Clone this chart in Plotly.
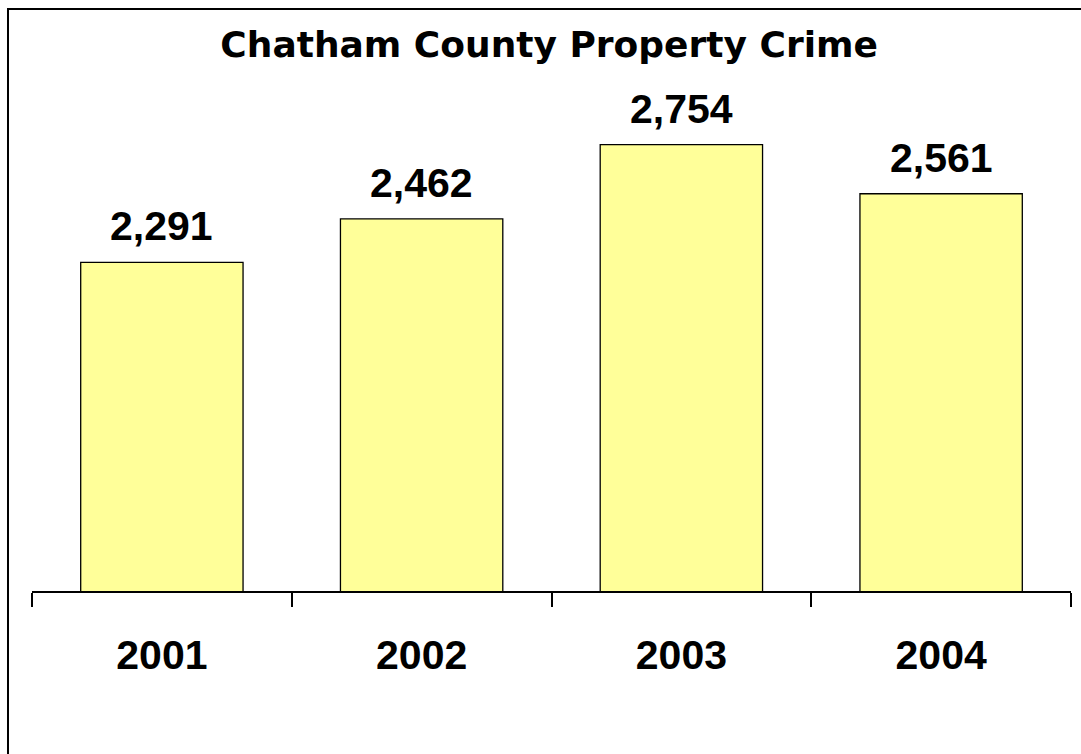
import plotly.graph_objects as go

# Property crime counts by year
years = ["2001", "2002", "2003", "2004"]
crimes = [2291, 2462, 2754, 2561]
value_labels = ["2,291", "2,462", "2,754", "2,561"]

label_font = dict(family="Liberation Sans, Arial, sans-serif", size=41, color="black", weight="bold")

fig = go.Figure(
    go.Bar(
        x=years,
        y=crimes,
        width=0.625,
        marker=dict(color="#FFFF99", line=dict(color="black", width=1.3)),
        hoverinfo="skip",
    )
)

# Value labels above each bar
for i, (val, txt) in enumerate(zip(crimes, value_labels)):
    fig.add_annotation(
        x=i, y=val, text=txt, showarrow=False,
        xanchor="center", yanchor="bottom", yshift=11,
        font=label_font,
    )

# Chart frame (left and top edges visible)
fig.add_shape(
    type="rect", xref="paper", yref="paper",
    x0=-0.0231, x1=1.06, y0=-0.45, y1=1.1434,
    line=dict(color="black", width=2), fillcolor="rgba(0,0,0,0)", layer="above",
)

fig.update_layout(
    width=1081,
    height=754,
    margin=dict(l=32, r=10, t=82, b=163),
    paper_bgcolor="white",
    plot_bgcolor="white",
    showlegend=False,
    title=dict(
        text="<b>Chatham County Property Crime</b>",
        x=0.508, xanchor="center",
        y=1 - 44 / 754, yanchor="middle", yref="container",
        font=dict(family="DejaVu Sans, Verdana, sans-serif", size=36, color="black"),
    ),
    xaxis=dict(
        type="category",
        categoryorder="array", categoryarray=years,
        range=[-0.5, 3.5], autorange=False,
        showline=True, linecolor="black", linewidth=1.5,
        ticks="outside", tickson="boundaries", ticklen=14, tickwidth=1.5, tickcolor="black",
        tickfont=label_font, tickangle=0,
        ticklabelstandoff=27,
        showgrid=False, zeroline=False,
    ),
    yaxis=dict(
        range=[1000, 3000], autorange=False,
        visible=False,
        showgrid=False, zeroline=False,
    ),
)

fig.write_html("out.html")
